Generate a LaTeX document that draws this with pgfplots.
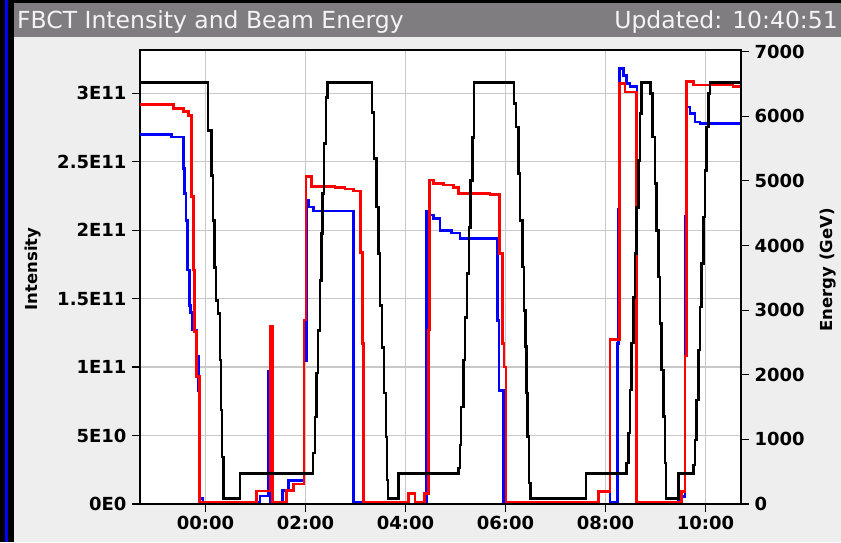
\documentclass[border=0pt]{standalone}
\usepackage{pgfplots}
\pgfplotsset{compat=1.18}
\usepackage{fontspec}
\setmainfont{DejaVu Sans}
\definecolor{bggray}{HTML}{EEEEEE}
\definecolor{titlegray}{HTML}{7F7D80}
\definecolor{gridgray}{HTML}{C8C8C8}
\definecolor{titletext}{HTML}{F4F4F4}
\newcommand{\tickfont}{\bfseries\fontsize{18}{20}\selectfont}
\begin{document}
\begin{tikzpicture}
\useasboundingbox (0pt,0pt) rectangle (841pt,542pt);
\fill[bggray] (0pt,0pt) rectangle (841pt,542pt);
\fill[black] (0pt,0pt) rectangle (13.5pt,542pt);
\fill[blue] (5pt,0pt) rectangle (7.5pt,542pt);
\fill[black] (13.5pt,539pt) rectangle (841pt,542pt);
\fill[titlegray] (13.5pt,505pt) rectangle (841pt,539pt);
\node[anchor=base west, inner sep=0pt, text=titletext, font=\fontsize{23.5}{28}\selectfont] at (17pt,513pt) {FBCT Intensity and Beam Energy};
\node[anchor=base east, inner sep=0pt, text=titletext, font=\fontsize{23.5}{28}\selectfont] at (838pt,513pt) {Updated: 10:40:51};
\begin{axis}[
  at={(140pt,38pt)}, anchor=south west, scale only axis,
  width=601pt, height=454pt,
  xmin=-1.31, xmax=10.71, ymin=0, ymax=3.316,
  xtick={0,2,4,6,8,10},
  xticklabels={00:00,02:00,04:00,06:00,08:00,10:00},
  ytick={0,0.5,1,1.5,2,2.5,3},
  yticklabels={0E0,5E10,1E11,1.5E11,2E11,2.5E11,3E11},
  tick pos=left, tick align=outside, major tick length=8pt,
  tick style={black, line width=1.2pt},
  grid=major, grid style={gridgray, line width=1.3pt},
  axis line style={black, line width=1.5pt},
  axis background/.style={fill=white},
  ticklabel style={font=\tickfont},
  yticklabel style={xshift=-2pt},
  xticklabel style={yshift=-1pt},
  clip=true,
]
\addplot[const plot, blue, line width=2.7pt] coordinates {
(-1.31,2.70) (-0.676,2.68) (-0.444,2.45) (-0.424,2.27) (-0.39,2.07) (-0.364,1.71)
(-0.324,1.45) (-0.296,1.40) (-0.264,1.27) (-0.176,1.08) (-0.144,0.83) (-0.11,0.04)
(-0.05,0.015) (1.09,0.058) (1.256,0.966) (1.29,0.015) (1.544,0.097) (1.656,0.17)
(1.97,1.05) (2.02,2.22) (2.07,2.17) (2.156,2.14) (2.956,0.015) (4.056,0.078)
(4.19,0.015) (4.424,2.135) (4.49,2.11) (4.556,2.087) (4.69,2.0) (4.925,1.98)
(5.09,1.94) (5.844,1.34) (5.87,0.83) (5.956,0.015) (7.856,0.09) (8.09,0.015)
(8.236,1.17) (8.256,2.15) (8.276,3.18) (8.356,3.13) (8.424,3.07) (8.49,3.05)
(8.63,0.015) (9.456,0.053) (9.59,2.1) (9.624,2.90) (9.69,2.85) (9.79,2.79)
(9.89,2.78) (10.71,2.776)
};
\addplot[const plot, red, line width=2.7pt] coordinates {
(-1.31,2.92) (-0.644,2.89) (-0.444,2.866) (-0.344,2.84) (-0.276,2.245) (-0.244,1.71)
(-0.224,1.26) (-0.176,0.93) (-0.124,0.015) (1.024,0.095) (1.30,1.295) (1.345,0.015)
(1.624,0.097) (1.756,0.146) (1.97,1.344) (2.01,2.39) (2.124,2.32) (2.59,2.31)
(2.79,2.30) (2.956,2.286) (3.104,1.836) (3.136,1.17) (3.164,0.015) (4.056,0.078)
(4.19,0.015) (4.376,0.078) (4.456,1.27) (4.476,2.367) (4.556,2.34) (4.756,2.33)
(4.956,2.31) (5.056,2.27) (5.69,2.26) (5.88,1.83) (5.944,1.17) (5.97,1.0)
(6.01,0.015) (7.856,0.09) (8.09,1.2) (8.276,3.07) (8.39,3.01) (8.624,0.015)
(9.524,0.09) (9.59,1.08) (9.624,3.085) (9.756,3.06) (10.55,3.05) (10.71,3.05)
};
\end{axis}
\begin{axis}[
  at={(140pt,38pt)}, anchor=south west, scale only axis,
  width=601pt, height=454pt,
  xmin=-1.31, xmax=10.71, ymin=0, ymax=7025,
  axis x line=none, axis y line*=right,
  ytick={0,1000,2000,3000,4000,5000,6000,7000},
  yticklabels={0,1000,2000,3000,4000,5000,6000,7000},
  tick align=outside, major tick length=8pt,
  tick style={black, line width=1.2pt},
  axis line style={black, line width=1.5pt},
  ticklabel style={font=\tickfont},
  yticklabel style={xshift=2pt},
  clip=true,
]
\addplot[const plot, black, line width=2.7pt] coordinates {
(-1.31,6520) (0.05,5782) (0.124,5086) (0.15,4391) (0.18,3664) (0.21,3154)
(0.25,2953) (0.29,2226) (0.31,1453) (0.33,727) (0.356,90) (0.69,470)
(2.15,788) (2.19,1345) (2.224,2025) (2.25,2690) (2.29,3463) (2.324,4190)
(2.344,4808) (2.37,5581) (2.41,6292) (2.444,6520) (3.33,6060) (3.37,5349)
(3.424,4596) (3.456,3880) (3.49,3076) (3.53,2427) (3.57,1716) (3.61,1036)
(3.63,371) (3.65,90) (3.856,470) (5.056,557) (5.09,912) (5.11,1500)
(5.156,2226) (5.19,2891) (5.23,3571) (5.27,4282) (5.304,5009) (5.336,5674)
(5.37,6520) (6.17,6200) (6.21,5833) (6.256,5117) (6.29,4391) (6.344,3669)
(6.37,2999) (6.404,2432) (6.424,1716) (6.444,1040) (6.47,325) (6.504,90)
(7.61,470) (8.424,634) (8.456,1098) (8.49,1762) (8.524,2489) (8.556,3200)
(8.59,3880) (8.624,4592) (8.656,5318) (8.69,6045) (8.724,6520) (8.904,6354)
(8.936,5678) (8.99,4963) (9.024,4236) (9.056,3514) (9.09,2798) (9.124,2072)
(9.156,1350) (9.19,634) (9.21,90) (9.456,470) (9.756,603) (9.79,989)
(9.824,1608) (9.856,2381) (9.89,3050) (9.924,3726) (9.956,4442) (9.99,5164)
(10.024,5833) (10.056,6349) (10.09,6520) (10.71,6520)
};
\end{axis}
\node[rotate=90, font=\bfseries\fontsize{16.5}{20}\selectfont] at (33pt,273pt) {Intensity};
\node[rotate=90, font=\bfseries\fontsize{16.5}{20}\selectfont] at (828pt,272pt) {Energy (GeV)};
\end{tikzpicture}
\end{document}
